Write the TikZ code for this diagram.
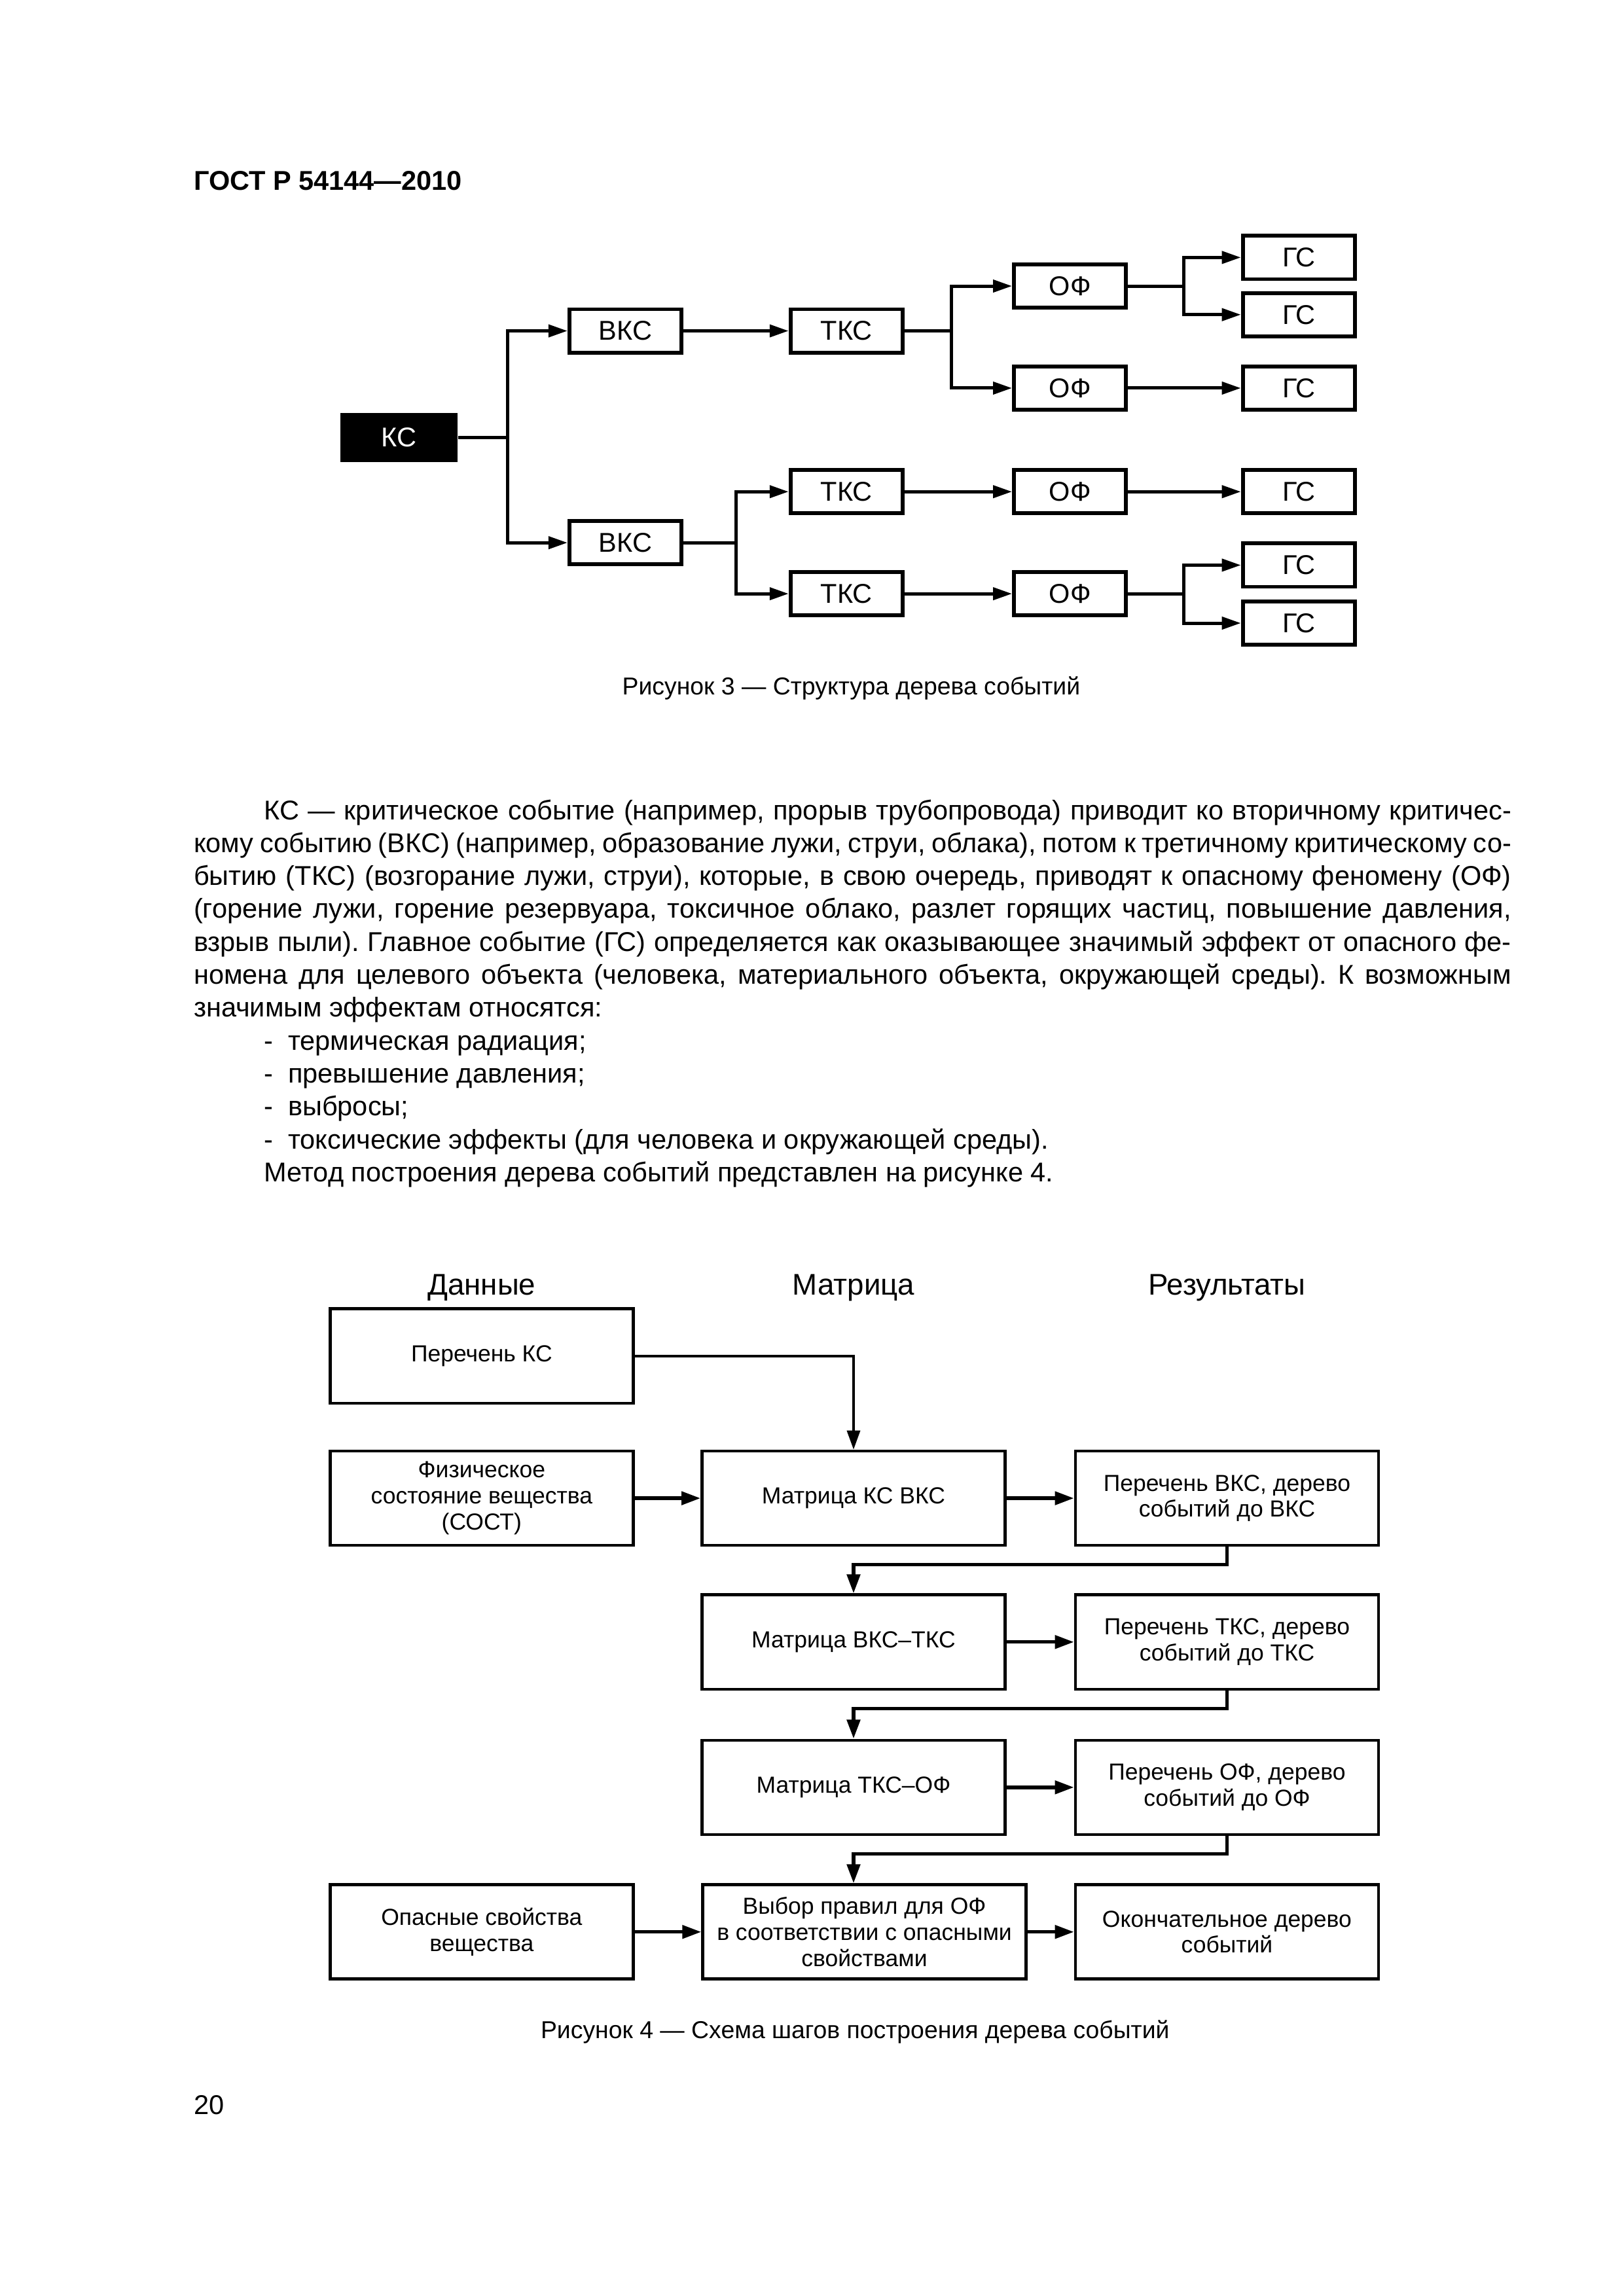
\documentclass[tikz,border=0pt]{standalone}
\usepackage{fontspec}
\setmainfont{Liberation Sans}
\usetikzlibrary{arrows.meta,positioning,calc}
\frenchspacing

\tikzset{
  ev/.style={draw, line width=1.4pt, minimum width=14.5mm, minimum height=5.6mm,
    inner sep=0pt, font=\fontsize{10}{12}\selectfont},
  evkey/.style={fill=black, text=white, minimum width=15.2mm, minimum height=6.3mm,
    inner sep=0pt, font=\fontsize{10}{12}\selectfont},
  link/.style={line width=1.2pt},
  arr/.style={link, -{Triangle[length=7pt,width=4.5pt]}},
  stage/.style={draw, line width=1.1pt, minimum width=39.2mm, minimum height=12.2mm,
    inner sep=1pt, align=center, font=\fontsize{8.55}{9.6}\selectfont},
  flow/.style={line width=1.3pt, -{Triangle[length=7pt,width=4.8pt]}},
  thinflow/.style={flow, line width=0.9pt},
  coltitle/.style={anchor=base, font=\fontsize{11}{13}\selectfont},
  caption/.style={anchor=base, font=\fontsize{9}{11}\selectfont},
  bodyline/.style={anchor=base west, inner sep=0pt, font=\fontsize{10}{12}\selectfont},
}

\begin{document}
\begin{tikzpicture}[x=1mm, y=-1mm]
  \useasboundingbox (0,0) rectangle (210,297);
  \node[bodyline, font=\fontsize{10}{12}\selectfont\bfseries] (head) at (25.0,24.6) {ГОСТ Р 54144—2010};

  % рисунок 3: дерево событий
  \node[evkey] (ks) at (51.6,56.6) {КС};
  \node[ev] (vks1) at (80.9,42.8) {ВКС};
  \node[ev] (vks2) at (80.9,70.2) {ВКС};
  \node[ev] (tks1) at (109.5,42.8) {ТКС};
  \node[ev] (tks2) at (109.5,63.6) {ТКС};
  \node[ev] (tks3) at (109.5,76.8) {ТКС};
  \node[ev] (of1) at (138.4,37.0) {ОФ};
  \node[ev] (of2) at (138.4,50.2) {ОФ};
  \node[ev] (of3) at (138.4,63.6) {ОФ};
  \node[ev] (of4) at (138.4,76.8) {ОФ};
  \node[ev] (gs1) at (168.0,33.3) {ГС};
  \node[ev] (gs2) at (168.0,40.7) {ГС};
  \node[ev] (gs3) at (168.0,50.2) {ГС};
  \node[ev] (gs4) at (168.0,63.6) {ГС};
  \node[ev] (gs5) at (168.0,73.1) {ГС};
  \node[ev] (gs6) at (168.0,80.6) {ГС};
  %точки ветвления
  \coordinate (j1) at ([xshift=6.4mm]ks.east);
  \coordinate (j2) at ([xshift=6.1mm]tks1.east);
  \coordinate (j3) at ([xshift=7.2mm]of1.east);
  \coordinate (j4) at ([xshift=6.8mm]vks2.east);
  \coordinate (j5) at ([xshift=7.2mm]of4.east);
  \draw[link] (ks.east) -- (j1);
  \draw[arr] (j1) |- (vks1);
  \draw[arr] (j1) |- (vks2);
  \draw[arr] (vks1) -- (tks1);
  \draw[link] (tks1.east) -- (j2);
  \draw[arr] (j2) |- (of1);
  \draw[arr] (j2) |- (of2);
  \draw[link] (of1.east) -- (j3);
  \draw[arr] (j3) |- (gs1);
  \draw[arr] (j3) |- (gs2);
  \draw[arr] (of2) -- (gs3);
  \draw[link] (vks2.east) -- (j4);
  \draw[arr] (j4) |- (tks2);
  \draw[arr] (j4) |- (tks3);
  \draw[arr] (tks2) -- (of3);
  \draw[arr] (of3) -- (gs4);
  \draw[arr] (tks3) -- (of4);
  \draw[link] (of4.east) -- (j5);
  \draw[arr] (j5) |- (gs5);
  \draw[arr] (j5) |- (gs6);
  \node[caption] (cap3) at (110.1,89.9) {Рисунок 3 — Структура дерева событий};

  % текст
  \node[bodyline] (p1) at (34.1,106.0) {\makebox[161.3mm][s]{КС — критическое событие (например, прорыв трубопровода) приводит ко вторичному критичес-}};
  \foreach \n/\txt in {
    2/{кому событию (ВКС) (например, образование лужи, струи, облака), потом к третичному критическому со-},
    3/{бытию (ТКС) (возгорание лужи, струи), которые, в свою очередь, приводят к опасному феномену (ОФ)},
    4/{(горение лужи, горение резервуара, токсичное облако, разлет горящих частиц, повышение давления,},
    5/{взрыв пыли). Главное событие (ГС) определяется как оказывающее значимый эффект от опасного фе-},
    6/{номена для целевого объекта (человека, материального объекта, окружающей среды). К возможным}}
    \node[bodyline] (p\n) at (25.0,{106.0+(\n-1)*4.26}) {\makebox[170.4mm][s]{\txt}};
  \node[bodyline] (p7) at (25.0,{106.0+6*4.26}) {значимым эффектам относятся:};
  \foreach \n/\txt in {
    8/{термическая радиация;},
    9/{превышение давления;},
    10/{выбросы;},
    11/{токсические эффекты (для человека и окружающей среды).}}
    \node[bodyline] (p\n) at (34.1,{106.0+(\n-1)*4.26}) {\makebox[3.1mm][l]{-}\txt};
  \node[bodyline] (p12) at (34.1,{106.0+11*4.26}) {Метод построения дерева событий представлен на рисунке 4.};

  % рисунок 4: схема шагов
  \node[coltitle] (tdata) at (62.3,167.5) {Данные};
  \node[coltitle] (tmatr) at (110.4,167.5) {Матрица};
  \node[coltitle] (tres) at (158.7,167.5) {Результаты};
  \node[stage] (lst) at (62.3,175.4) {Перечень КС};
  \node[stage] (phys) at (62.3,193.8) {Физическое\\состояние вещества\\(СОСТ)};
  \node[stage] (mvks) at (110.4,193.8) {Матрица КС ВКС};
  \node[stage] (rvks) at (158.7,193.8) {Перечень ВКС, дерево\\событий до ВКС};
  \node[stage] (mtks) at (110.4,212.4) {Матрица ВКС–ТКС};
  \node[stage] (rtks) at (158.7,212.4) {Перечень ТКС, дерево\\событий до ТКС};
  \node[stage] (mof) at (110.4,231.2) {Матрица ТКС–ОФ};
  \node[stage] (rof) at (158.7,231.2) {Перечень ОФ, дерево\\событий до ОФ};
  \node[stage] (haz) at (62.3,249.9) {Опасные свойства\\вещества};
  \node[stage, minimum width=41.8mm] (rule) at (111.8,249.9) {Выбор правил для ОФ\\в соответствии с опасными\\свойствами};
  \node[stage] (final) at (158.7,249.9) {Окончательное дерево\\событий};
  \draw[thinflow] (lst) -| (mvks);
  \draw[flow] (phys) -- (mvks);
  \draw[flow] (mvks) -- (rvks);
  \draw[flow] (mtks) -- (rtks);
  \draw[flow] (mof) -- (rof);
  \draw[flow] (haz) -- (rule);
  \draw[flow] (rule) -- (final);
  \draw[flow] (rvks.south) -- ++(0,2.3) -| (mtks.north);
  \draw[flow] (rtks.south) -- ++(0,2.3) -| (mof.north);
  \draw[flow] (rof.south) -- ++(0,2.3) -| (mof.south |- rule.north);
  \node[caption] (cap4) at (110.6,263.7) {Рисунок 4 — Схема шагов построения дерева событий};

  \node[bodyline] (page) at (25.0,273.5) {20};
\end{tikzpicture}
\end{document}
